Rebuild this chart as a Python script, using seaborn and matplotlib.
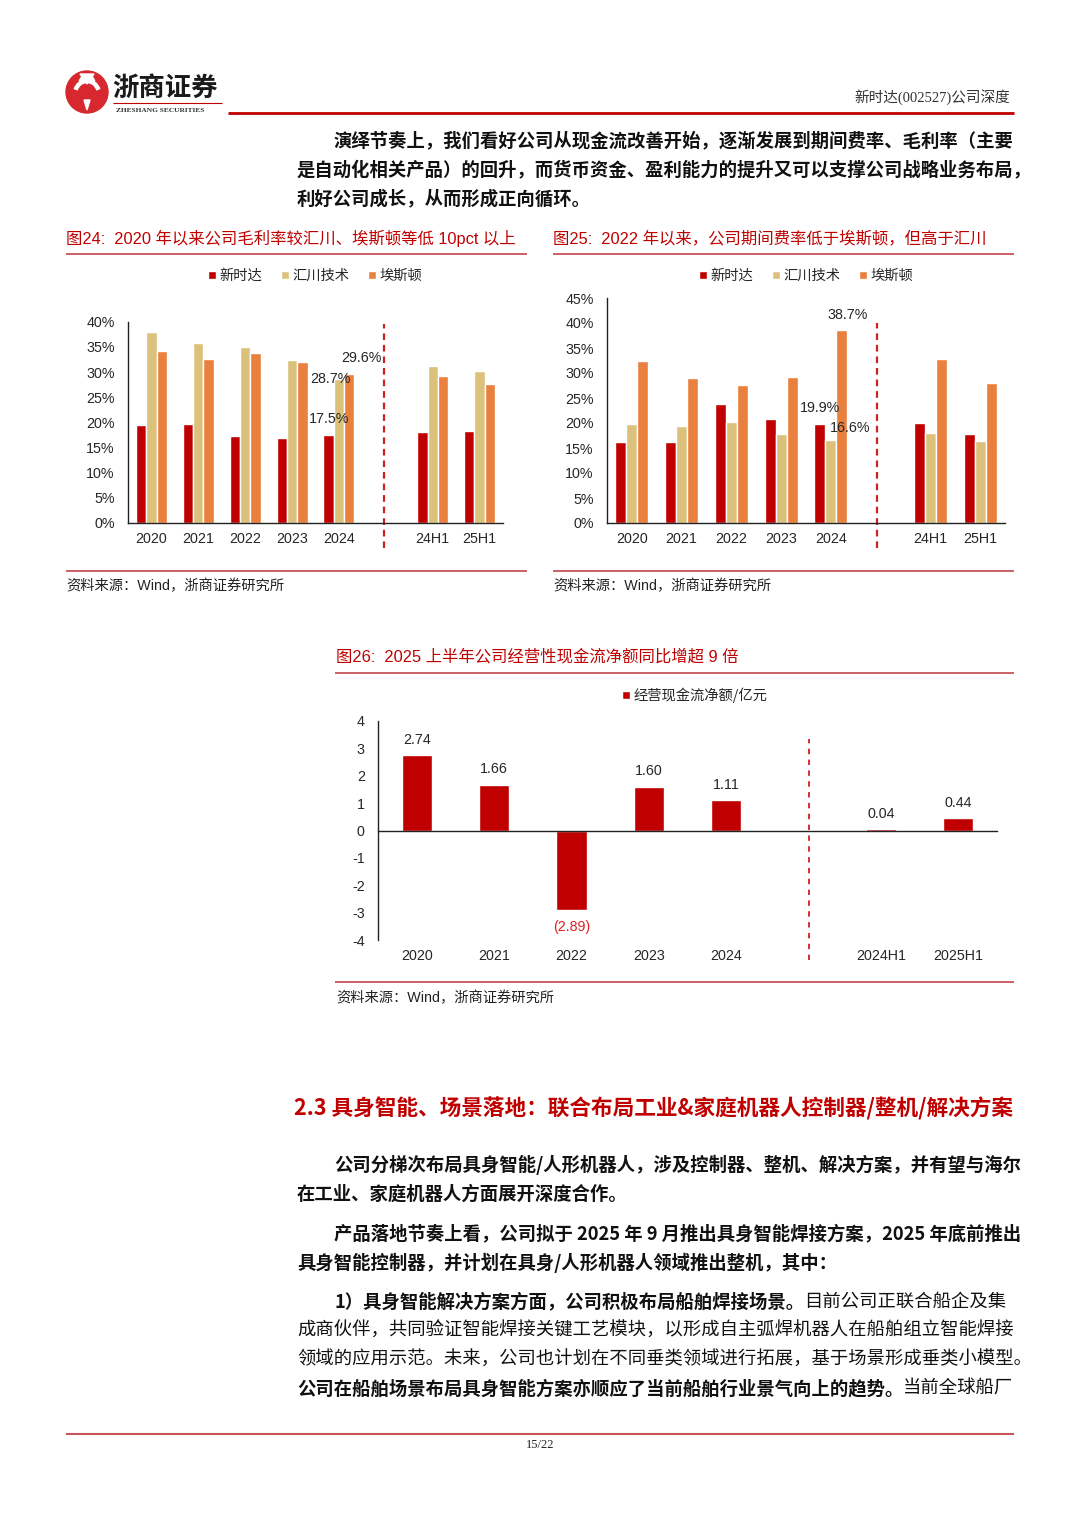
import matplotlib
matplotlib.use('Agg')
import matplotlib.pyplot as plt
import numpy as np
import pandas as pd
import seaborn as sns
from matplotlib.patches import Circle, Arc, Polygon
from matplotlib.ticker import FuncFormatter

# ---------------- data ----------------
cats_a = ['2020', '2021', '2022', '2023', '2024', ' ', '24H1', '25H1']
series_names = ['新时达', '汇川技术', '埃斯顿']

gm_xinshida = [19.4, 19.6, 17.3, 16.9, 17.5, None, 18.0, 18.3]
gm_inovance = [37.9, 35.7, 34.9, 32.3, 28.7, None, 31.1, 30.2]
gm_estun = [34.1, 32.5, 33.8, 31.9, 29.6, None, 29.2, 27.6]

ex_xinshida = [16.3, 16.2, 23.9, 20.9, 19.9, None, 20.1, 17.9]
ex_inovance = [19.9, 19.5, 20.3, 17.9, 16.6, None, 18.0, 16.5]
ex_estun = [32.5, 29.1, 27.7, 29.3, 38.7, None, 32.9, 28.1]

cats_c = ['2020', '2021', '2022', '2023', '2024', ' ', '2024H1', '2025H1']
cash_flow = [2.74, 1.66, -2.89, 1.60, 1.11, None, 0.04, 0.44]
cash_name = '经营现金流净额/亿元'

gm_yticks = [0, 5, 10, 15, 20, 25, 30, 35, 40]
ex_yticks = [0, 5, 10, 15, 20, 25, 30, 35, 40, 45]
cf_yticks = [-4, -3, -2, -1, 0, 1, 2, 3, 4]

title24 = '图24:  2020 年以来公司毛利率较汇川、埃斯顿等低 10pct 以上'
title25 = '图25:  2022 年以来，公司期间费率低于埃斯顿，但高于汇川'
title26 = '图26:  2025 上半年公司经营性现金流净额同比增超 9 倍'
source = '资料来源：Wind，浙商证券研究所'

# ---------------- style ----------------
RED = '#C00000'
palette = {'新时达': '#C00000', '汇川技术': '#DBC17B', '埃斯顿': '#E9803D'}
LINE_RED = '#C9545A'

sns.set_style('white')
plt.rcParams['font.family'] = ['Liberation Sans', 'Noto Sans CJK SC']
plt.rcParams['axes.unicode_minus'] = False

W, H = 1080, 1527
fig = plt.figure(figsize=(W / 100, H / 100), dpi=100)
fig.patch.set_facecolor('white')


def rect(x0, y0, x1, y1):
    return [x0 / W, 1 - y1 / H, (x1 - x0) / W, (y1 - y0) / H]


bg = fig.add_axes([0, 0, 1, 1], zorder=0)
bg.set_xlim(0, W)
bg.set_ylim(H, 0)
bg.axis('off')

CJK = ['Noto Sans CJK SC']
MIX = ['Liberation Sans', 'Noto Sans CJK SC']
SERIF = ['Liberation Serif', 'Noto Sans CJK SC']


def hline(x0, x1, y, color=LINE_RED, lw=1.3):
    bg.plot([x0, x1], [y, y], color=color, lw=lw, solid_capstyle='butt')


def long_df(cats, series):
    rows = []
    for name, vals in series.items():
        for c, v in zip(cats, vals):
            if v is not None:
                rows.append({'cat': c, 'series': name, 'value': v})
    return pd.DataFrame(rows)


def style_axes(ax, n, xpad):
    for s in ['top', 'right']:
        ax.spines[s].set_visible(False)
    for s in ['left', 'bottom']:
        ax.spines[s].set_color('#222222')
        ax.spines[s].set_linewidth(1.0)
    ax.set_xlim(-0.5, n - 0.5)
    ax.set_xticks(np.arange(-0.5, n, 1), minor=True)
    ax.tick_params(axis='x', which='major', length=0, pad=xpad, labelsize=10.3)
    ax.tick_params(axis='x', which='minor', length=4, width=1, direction='out',
                   color='#222222')
    ax.tick_params(axis='y', which='major', length=3, width=1, direction='out',
                   pad=6.5, labelsize=10.3, color='#222222')
    ax.set_xlabel('')
    ax.set_ylabel('')
    ax.set_facecolor('none')


def add_legend(ax, yfrac, xfrac=0.5):
    h, l = ax.get_legend_handles_labels()
    ax.legend(h, l, loc='center', bbox_to_anchor=(xfrac, yfrac), ncol=len(h),
              frameon=False, prop={'family': CJK, 'size': 10.3},
              handlelength=0.55, handleheight=0.55, handletextpad=0.25,
              columnspacing=1.3, borderaxespad=0)


pct_fmt = FuncFormatter(lambda v, p: f'{v:.0f}%')

# ---------------- chart 24 ----------------
ax1 = fig.add_axes(rect(128, 321.7, 503, 523), zorder=2)
df1 = long_df(cats_a, {'新时达': gm_xinshida, '汇川技术': gm_inovance, '埃斯顿': gm_estun})
sns.barplot(data=df1, x='cat', y='value', hue='series', order=cats_a,
            hue_order=series_names, palette=palette, width=0.66, gap=0,
            saturation=1, errorbar=None, ax=ax1)
style_axes(ax1, len(cats_a), 6.8)
ax1.set_ylim(0, 40)
ax1.set_yticks(gm_yticks)
ax1.yaxis.set_major_formatter(pct_fmt)
add_legend(ax1, 1.227)
i24 = cats_a.index('2024')
for vals, dx, dy in [(gm_xinshida, -0.21, 3.1), (gm_inovance, -0.18, -0.1),
                     (gm_estun, 0.48, 3.1)]:
    v = vals[i24]
    ax1.text(i24 + dx, v + dy, f'{v:.1f}%', ha='center', va='center', fontsize=10.3)
ax1.axvline(4.97, ymin=-0.126, ymax=0.989, color='#D02020', lw=1.6,
            ls=(0, (3, 2.2)), clip_on=False)

# ---------------- chart 25 ----------------
ax2 = fig.add_axes(rect(607, 298, 1005, 523), zorder=2)
df2 = long_df(cats_a, {'新时达': ex_xinshida, '汇川技术': ex_inovance, '埃斯顿': ex_estun})
sns.barplot(data=df2, x='cat', y='value', hue='series', order=cats_a,
            hue_order=series_names, palette=palette, width=0.66, gap=0,
            saturation=1, errorbar=None, ax=ax2)
style_axes(ax2, len(cats_a), 6.8)
ax2.set_ylim(0, 45)
ax2.set_yticks(ex_yticks)
ax2.yaxis.set_major_formatter(pct_fmt)
add_legend(ax2, 1.098)
for vals, dx, dy in [(ex_xinshida, -0.22, 3.2), (ex_inovance, 0.38, 2.5),
                     (ex_estun, 0.34, 2.9)]:
    v = vals[i24]
    ax2.text(i24 + dx, v + dy, f'{v:.1f}%', ha='center', va='center', fontsize=10.3)
ax2.axvline(4.92, ymin=-0.112, ymax=0.888, color='#D02020', lw=1.6,
            ls=(0, (3, 2.2)), clip_on=False)

# ---------------- chart 26 ----------------
ax3 = fig.add_axes(rect(378, 721, 997, 940), zorder=2)
df3 = pd.DataFrame({'cat': [c for c, v in zip(cats_c, cash_flow) if v is not None],
                    'value': [v for v in cash_flow if v is not None]})
sns.barplot(data=df3, x='cat', y='value', order=cats_c, color=RED, width=0.39,
            saturation=1, errorbar=None, label=cash_name, ax=ax3)
style_axes(ax3, len(cats_c), 85.5)
ax3.spines['bottom'].set_position(('data', 0))
ax3.set_ylim(-4, 4)
ax3.set_yticks(cf_yticks)
add_legend(ax3, 1.118, 0.512)
for i, v in enumerate(cash_flow):
    if v is None:
        continue
    if v >= 0:
        ax3.text(i, v + 0.57, f'{v:.2f}', ha='center', va='center', fontsize=10.3)
    else:
        ax3.text(i, v - 0.63, f'({abs(v):.2f})', ha='center', va='center',
                 fontsize=10.3, color='#E02020')
ax3.axvline(5.07, ymin=-0.09, ymax=0.92, color='#D02020', lw=1.3,
            ls=(0, (3, 3)), clip_on=False)

# ---------------- chart frames ----------------
for x0, x1, ttl in [(66, 527, title24), (553, 1014, title25)]:
    bg.text(x0, 238, ttl, color=RED, fontsize=11.8, family=MIX, va='center')
    hline(x0, x1, 254)
    hline(x0, x1, 571)
    bg.text(x0, 586, source, fontsize=10.3, family=MIX, va='center', color='#222222')
bg.text(336, 657, title26, color=RED, fontsize=11.8, family=MIX, va='center')
hline(335, 1014, 673)
hline(335, 1014, 982)
bg.text(336, 998, source, fontsize=10.3, family=MIX, va='center', color='#222222')

# ---------------- header ----------------
bg.add_patch(Circle((87, 92), 21, color='#D7282F', zorder=3))
bg.add_patch(Arc((87, 94), 24, 26, theta1=200, theta2=340, color='white', lw=3.2, zorder=4))
bg.add_patch(Arc((87, 84), 14, 16, theta1=200, theta2=340, color='white', lw=2.6, zorder=4))
bg.add_patch(Polygon([[80, 74], [94, 74], [87, 84]], closed=True, color='white', zorder=4))
bg.add_patch(Polygon([[84, 100], [90, 100], [87, 110]], closed=True, color='white', zorder=4))
bg.text(112, 88, '浙商证券', fontsize=19, fontweight='bold', family=CJK,
        va='center', ha='left', color='#1a1a1a')
hline(113, 222, 103, color='#C00000', lw=0.8)
bg.text(116, 110, 'ZHESHANG SECURITIES', fontsize=5.3, fontweight='bold',
        family=['Liberation Serif'], va='center', ha='left', color='#333333')
hline(228, 1014, 113, color=RED, lw=2.0)
bg.text(1010, 97, '新时达(002527)公司深度', fontsize=10.5, family=SERIF,
        va='center', ha='right', color='#333333')

# ---------------- body text ----------------
renderer = fig.canvas.get_renderer()
BODY_SIZE = 13.2


def body_line(x, y, parts):
    for txt, bold in parts:
        t = bg.text(x, y, txt, fontsize=BODY_SIZE, family=CJK,
                    fontweight='bold' if bold else 'normal',
                    va='center', ha='left', color='#111111')
        x += t.get_window_extent(renderer=renderer).width


body_line(334, 141, [('演绎节奏上，我们看好公司从现金流改善开始，逐渐发展到期间费率、毛利率（主要', True)])
body_line(297, 170, [('是自动化相关产品）的回升，而货币资金、盈利能力的提升又可以支撑公司战略业务布局，', True)])
body_line(297, 199, [('利好公司成长，从而形成正向循环。', True)])

bg.text(294, 1109, '2.3 具身智能、场景落地：联合布局工业&家庭机器人控制器/整机/解决方案',
        fontsize=15.6, fontweight='bold', family=CJK, color=RED, va='center')

body_line(334, 1165, [('公司分梯次布局具身智能/人形机器人，涉及控制器、整机、解决方案，并有望与海尔', True)])
body_line(297, 1194, [('在工业、家庭机器人方面展开深度合作。', True)])
body_line(334, 1234, [('产品落地节奏上看，公司拟于 2025 年 9 月推出具身智能焊接方案，2025 年底前推出', True)])
body_line(297, 1263, [('具身智能控制器，并计划在具身/人形机器人领域推出整机，其中：', True)])
body_line(334, 1302, [('1）具身智能解决方案方面，公司积极布局船舶焊接场景。', True),
                      ('目前公司正联合船企及集', False)])
body_line(297, 1331, [('成商伙伴，共同验证智能焊接关键工艺模块，以形成自主弧焊机器人在船舶组立智能焊接', False)])
body_line(297, 1360, [('领域的应用示范。未来，公司也计划在不同垂类领域进行拓展，基于场景形成垂类小模型。', False)])
body_line(297, 1389, [('公司在船舶场景布局具身智能方案亦顺应了当前船舶行业景气向上的趋势。', True),
                      ('当前全球船厂', False)])

# ---------------- footer ----------------
hline(66, 1014, 1434, color=LINE_RED, lw=1.5)
bg.text(540, 1445, '15/22', fontsize=9, family=['Liberation Serif'], ha='center',
        va='center', color='#222222')

fig.savefig('out.png', dpi=100, facecolor='white')
